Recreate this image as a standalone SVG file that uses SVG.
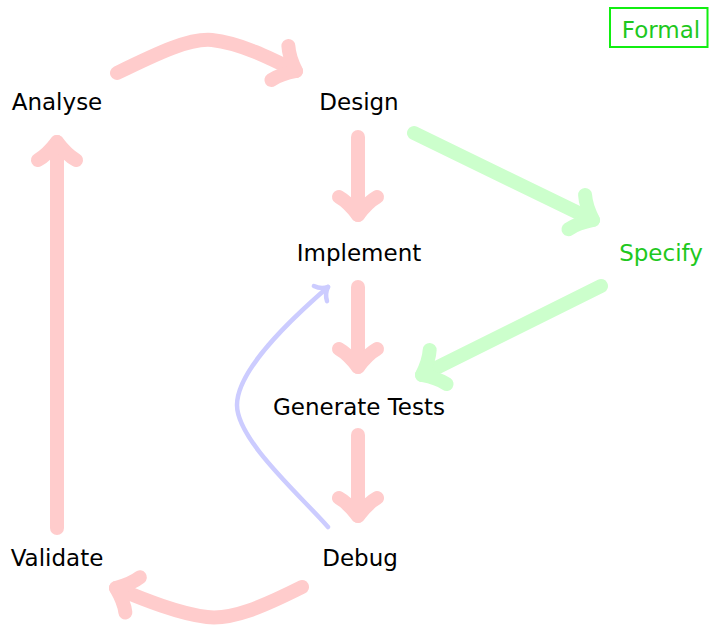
<svg xmlns="http://www.w3.org/2000/svg" width="710" height="629" viewBox="0 0 710 629">
  <style>
    text { font-family: "DejaVu Sans", "Liberation Sans", sans-serif; font-size: 23px; fill: #000; text-anchor: middle; }
    .formal { fill: #1ec81e; }
    .edge { fill: none; stroke-linecap: round; stroke-linejoin: round; }
    .red { stroke: #ffcccc; stroke-width: 14; marker-end: url(#tipRed); }
    .green { stroke: #ccffcc; stroke-width: 14; marker-end: url(#tipGreen); }
    .blue { stroke: #ccccff; stroke-width: 4.5; marker-end: url(#tipBlue); }
  </style>
  <defs>
    <marker id="tipRed" markerUnits="userSpaceOnUse" orient="auto" overflow="visible" refX="0" refY="0" markerWidth="1" markerHeight="1">
      <path d="M-18,-19 Q-13,-10 0,0 Q-13,10 -18,19" fill="none" stroke="#ffcccc" stroke-width="14" stroke-linecap="round" stroke-linejoin="round"/>
    </marker>
    <marker id="tipGreen" markerUnits="userSpaceOnUse" orient="auto" overflow="visible" refX="0" refY="0" markerWidth="1" markerHeight="1">
      <path d="M-18,-19 Q-13,-10 0,0 Q-13,10 -18,19" fill="none" stroke="#ccffcc" stroke-width="14" stroke-linecap="round" stroke-linejoin="round"/>
    </marker>
    <marker id="tipBlue" markerUnits="userSpaceOnUse" orient="auto" overflow="visible" refX="0" refY="0" markerWidth="1" markerHeight="1">
      <path d="M-10,-10 Q-7,-3 0,0 Q-7,3 -10,10" fill="none" stroke="#ccccff" stroke-width="4.5" stroke-linecap="round" stroke-linejoin="round"/>
    </marker>
  </defs>

  <!-- connectors -->
  <g id="connectors">
    <path class="edge red" d="M117,73 C160,52 190,38 212,40 C240,43 270,58 296,71"/>
    <path class="edge red" d="M358,137 L358,215"/>
    <path class="edge red" d="M358,287 L358,367"/>
    <path class="edge red" d="M358,435 L358,516"/>
    <path class="edge red" d="M302,587 C262,607 232,620 207,617 C180,614 145,600 116,588"/>
    <path class="edge red" d="M57,528 L57,142"/>
    <path class="edge green" d="M414,133 L593,220"/>
    <path class="edge green" d="M601,286 L422,375"/>
    <path class="edge blue" d="M328,527 C300,495 237,440 237,405 C237,370 290,320 328,287"/>
  </g>

  <!-- nodes -->
  <g id="analyse"><text x="57" y="110">Analyse</text></g>
  <g id="design"><text x="359" y="110">Design</text></g>
  <g id="implement"><text x="359" y="261">Implement</text></g>
  <g id="specify"><text class="formal" x="661" y="261">Specify</text></g>
  <g id="generate-tests"><text x="359" y="415">Generate Tests</text></g>
  <g id="validate"><text x="57" y="566">Validate</text></g>
  <g id="debug"><text x="360" y="566">Debug</text></g>
  <g id="formal">
    <rect x="610" y="8" width="97.5" height="39" fill="none" stroke="#11ee11" stroke-width="2"/>
    <text class="formal" x="661" y="38">Formal</text>
  </g>
</svg>
